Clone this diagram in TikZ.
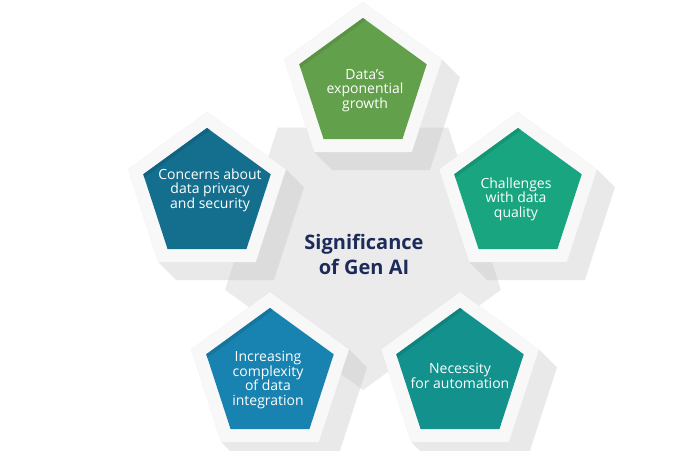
\documentclass[tikz,border=0pt]{standalone}
\usepackage{fontspec}
\setmainfont{Open Sans}
\definecolor{centgray}{HTML}{EBEBEB}
\definecolor{shadw}{HTML}{E9E9E9}
\definecolor{shadwdark}{HTML}{DCDCDC}
\definecolor{rim}{HTML}{F8F8F8}
\definecolor{cgreen}{HTML}{63A04B}
\definecolor{cgreend}{HTML}{5A9343}
\definecolor{cchal}{HTML}{18A580}
\definecolor{cchald}{HTML}{159574}
\definecolor{cnec}{HTML}{12918D}
\definecolor{cnecd}{HTML}{10837F}
\definecolor{cinc}{HTML}{1882B0}
\definecolor{cincd}{HTML}{15759F}
\definecolor{ccon}{HTML}{146F8E}
\definecolor{ccond}{HTML}{116481}
\definecolor{navy}{HTML}{1C2B5A}
\newcommand\outerpent[3]{\fill[#3] (#1,#2) +(90:83) -- +(162:83) -- +(234:83) -- +(306:83) -- +(18:83) -- cycle;}
\newcommand\shadowpent[3]{\fill[#3] (#1,#2) +(18:83) -- +(90:83) -- +(162:83) -- +(234:83) -- +(-30.79,-85.15) -- +(66.79,-85.15) -- +(96.94,7.65) -- cycle;}
\newcommand\colpent[4]{%
  \begin{scope}
    \clip (#1,#2) +(90:67) -- +(162:67) -- +(234:67) -- +(306:67) -- +(18:67) -- cycle;
    \fill[#3] (#1,#2) circle (70);
    \fill[#4] (#1,#2) +(-82.84,6.81) -- +(19.12,80.89) -- +(21.06,78.19) -- +(-80.9,4.11) -- cycle;
  \end{scope}}
\begin{document}
\begin{tikzpicture}[x=1pt,y=1pt,
  itemtext/.style={text=white, align=center, inner sep=0pt, font=\fontsize{14}{14.5}\selectfont},
  titletext/.style={text=navy, align=center, inner sep=0pt, font=\fontsize{20}{25}\selectfont\bfseries}]
\useasboundingbox (0,0) rectangle (700,-450);
\fill[white] (0,0) rectangle (700,-450);
% central pentagon
\fill[centgray] (363,-245) +(126:145) -- +(54:145) -- +(-18:145) -- +(-90:145) -- +(198:145) -- cycle;
% shadows
\shadowpent{363}{-85}{shadw}
\shadowpent{518}{-195}{shadw}
\shadowpent{207}{-195}{shadw}
\shadowpent{270}{-375}{shadw}
\shadowpent{460}{-375}{shadw}
\begin{scope}
  \clip (363,-245) +(126:145) -- +(54:145) -- +(-18:145) -- +(-90:145) -- +(198:145) -- cycle;
  \shadowpent{363}{-85}{shadwdark}
  \shadowpent{518}{-195}{shadwdark}
  \shadowpent{207}{-195}{shadwdark}
  \shadowpent{270}{-375}{shadwdark}
  \shadowpent{460}{-375}{shadwdark}
\end{scope}
% rims
\outerpent{363}{-85}{rim}
\outerpent{518}{-195}{rim}
\outerpent{207}{-195}{rim}
\outerpent{270}{-375}{rim}
\outerpent{460}{-375}{rim}
% coloured pentagons
\colpent{363}{-85}{cgreen}{cgreend}
\colpent{518}{-195}{cchal}{cchald}
\colpent{207}{-195}{ccon}{ccond}
\colpent{270}{-375}{cinc}{cincd}
\colpent{460}{-375}{cnec}{cnecd}
% texts
\node[itemtext] (growth) at (365,-90.5) {Data's\\exponential\\growth};
\node[itemtext] (quality) at (516,-199) {Challenges\\with data\\quality};
\node[itemtext] (privacy) at (210,-190) {Concerns about\\data privacy\\and security};
\node[itemtext] (integration) at (268,-380) {Increasing\\complexity\\of data\\integration};
\node[itemtext] (automation) at (460,-376) {Necessity\\for automation};
\node[titletext] (title) at (364,-254) {Significance\\of Gen AI};
\end{tikzpicture}
\end{document}
